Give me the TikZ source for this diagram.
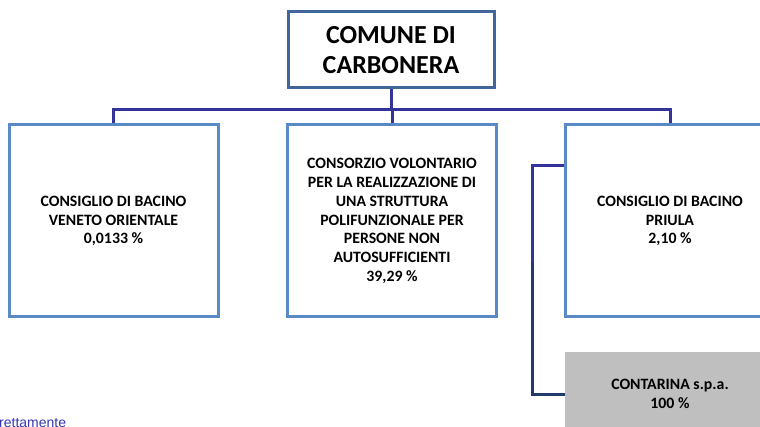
\documentclass[tikz,border=0pt]{standalone}
\usepackage{fontspec}
\setmainfont{Carlito}
\newfontfamily\arialfont{Liberation Sans}
\usetikzlibrary{calc}
\definecolor{titleborder}{HTML}{41669A}
\definecolor{boxborder}{HTML}{5A8AC6}
\definecolor{connblue}{HTML}{33339A}
\definecolor{connnavy}{HTML}{1F3A6B}
\definecolor{greyfill}{HTML}{BFBFBF}
\definecolor{notecol}{HTML}{3535B5}
\tikzset{
  titlebox/.style={draw=titleborder, line width=3pt, fill=white, minimum width=206pt, minimum height=76pt, align=center, inner sep=0pt, font=\fontsize{26}{30}\selectfont\bfseries},
  orgbox/.style={draw=boxborder, line width=3pt, fill=white, minimum width=209pt, minimum height=192pt, align=center, inner sep=0pt, font=\fontsize{15.8}{18.8}\selectfont\bfseries},
  greybox/.style={draw=none, fill=greyfill, minimum width=210pt, minimum height=84pt, align=center, inner sep=0pt, font=\fontsize{15.8}{18.8}\selectfont\bfseries},
  conn/.style={draw=connblue, line width=3pt},
  connlow/.style={draw=connnavy, line width=3pt},
}
\begin{document}
\begin{tikzpicture}[x=1pt,y=-1pt]
\useasboundingbox (0,0) rectangle (760,427);
\clip (0,0) rectangle (760,427);
\coordinate (bus) at (0,110);
\node[titlebox] (title) at (391,50) {COMUNE DI\\CARBONERA};
\node[orgbox] (left) at (113.5,221) {CONSIGLIO DI BACINO\\VENETO ORIENTALE\\0,0133 \%};
\node[orgbox] (mid) at (392,221) {CONSORZIO VOLONTARIO\\PER LA REALIZZAZIONE DI\\UNA STRUTTURA\\POLIFUNZIONALE PER\\PERSONE NON\\AUTOSUFFICIENTI\\39,29 \%};
\node[orgbox] (right) at (670,221) {CONSIGLIO DI BACINO\\PRIULA\\2,10 \%};
\node[greybox] (grey) at (670,394) {CONTARINA s.p.a.\\100 \%};
\coordinate (rj) at ($(right.north west)+(0,42)$);
\coordinate (brx) at (532,0);
\coordinate (split) at (532,262);
\draw[conn] (title.south) -- (title.south |- bus);
\draw[conn] (left.north) -- (left.north |- bus) -- (right.north |- bus) -- (right.north);
\draw[conn] (mid.north) -- (mid.north |- bus);
\draw[conn] (rj) -- (rj -| brx) -- (split);
\draw[connlow] (split) -- (split |- grey.west) -- (grey.west);
\node[anchor=base west, inner sep=0pt, text=notecol, font=\arialfont\fontsize{14}{16}\selectfont] (note) at (-1,427) {rettamente};
\end{tikzpicture}
\end{document}
